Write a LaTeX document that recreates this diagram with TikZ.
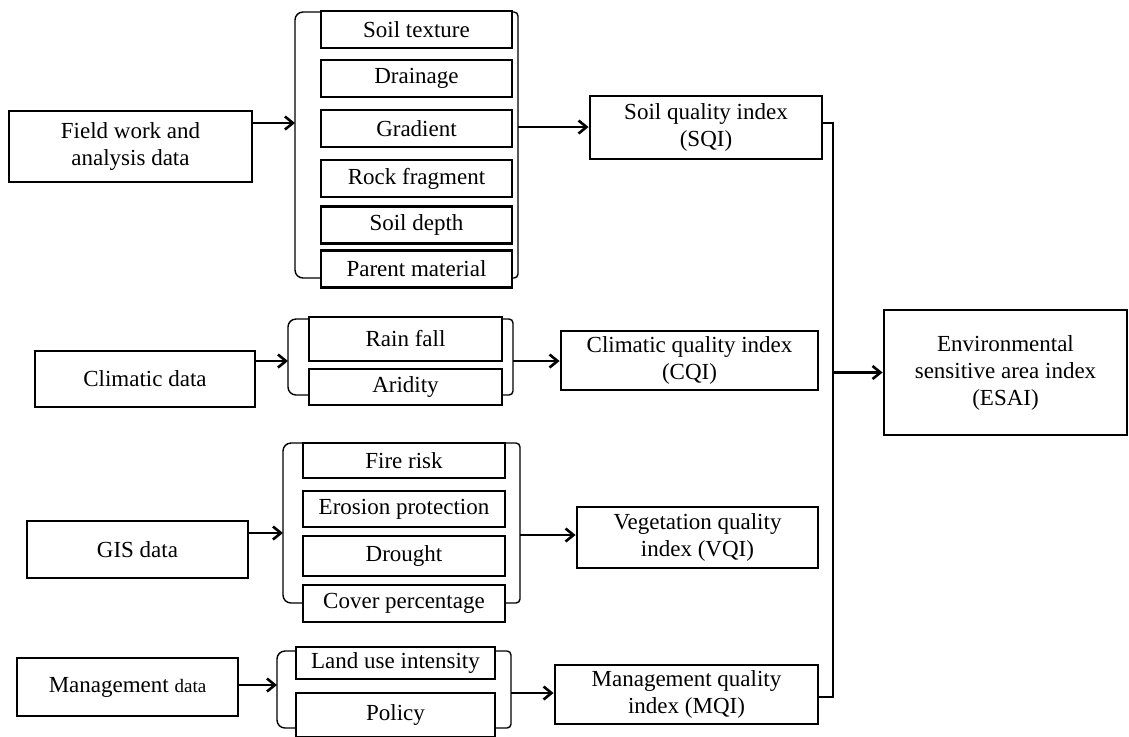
\documentclass[tikz,border=0pt]{standalone}
\usepackage{fontspec}
\setmainfont{Liberation Serif}
\usetikzlibrary{arrows.meta,positioning}

\begin{document}
\begin{tikzpicture}[x=0.5pt, y=-0.5pt,
    every node/.style={font=\fontsize{11.5}{13.5}\selectfont},
    src/.style={draw, line width=1.4pt, align=center, inner sep=0pt},
    factor/.style={draw, line width=1.4pt, align=center, inner sep=0pt},
    soilf/.style={factor, minimum width=95.5pt, minimum height=18.5pt},
    climf/.style={factor, minimum width=96.5pt},
    gisf/.style={factor, minimum width=101pt},
    mgmtf/.style={factor, minimum width=99.5pt},
    index/.style={draw, line width=1.4pt, align=center, inner sep=0pt},
    brace/.style={line width=0.7pt, rounded corners=4pt},
    rbrace/.style={line width=0.7pt, rounded corners=2pt},
    arrow/.style={line width=1.3pt, -{Straight Barb[length=4pt,width=6.5pt]}},
    link/.style={line width=0.6pt}
]
\useasboundingbox (0,0) rectangle (1129,736);

% Input data
\node[src, minimum width=121.5pt, minimum height=35.5pt] (field) at (130.5,146.5) {Field work and\\analysis data};
\node[src, minimum width=110pt, minimum height=28pt] (clim) at (145,379) {Climatic data};
\node[src, minimum width=110.5pt, minimum height=28.5pt] (gis) at (137.5,549.5) {GIS data};
\node[src, minimum width=110.5pt, minimum height=29pt] (mgmt) at (127.5,687) {Management {\fontsize{9.5}{11}\selectfont data}};

% Soil factors
\node[soilf] (texture) at (416.5,29.5) {Soil texture};
\node[soilf] (drainage) at (416.5,78.5) {Drainage};
\node[soilf] (gradient) at (416.5,128.5) {Gradient};
\node[soilf] (rock) at (416.5,178.5) {Rock fragment};
\node[soilf] (depth) at (416.5,225) {Soil depth};
\node[soilf] (parent) at (416.5,269) {Parent material};

% Climate factors
\node[climf, minimum height=22pt] (rain) at (405.5,339) {Rain fall};
\node[climf, minimum height=18pt] (aridity) at (405.5,387) {Aridity};

% Vegetation factors
\node[gisf, minimum height=17.5pt] (fire) at (404,460.5) {Fire risk};
\node[gisf, minimum height=18pt] (erosion) at (404,509) {Erosion protection};
\node[gisf, minimum height=20pt] (drought) at (404,556) {Drought};
\node[gisf, minimum height=18.5pt] (cover) at (404,603.5) {Cover percentage};

% Management factors
\node[mgmtf, minimum height=16pt] (landuse) at (395.5,663) {Land use intensity};
\node[mgmtf, minimum height=22pt] (policy) at (395.5,715) {Policy};

% Brackets round each group
\draw[brace] (321,12) -| (295,278) -- (321,278);
\draw[rbrace] (512,12) -| (518,278) -- (512,278);
\draw[brace] (309,319) -| (288,395) -- (309,395);
\draw[rbrace] (502,319) -| (513,395) -- (502,395);
\draw[brace] (303,443) -| (283,603) -- (303,603);
\draw[rbrace] (505,443) -| (520,603) -- (505,603);
\draw[brace] (296,651) -| (277,728) -- (296,728);
\draw[rbrace] (495,651) -| (511,728) -- (495,728);

\coordinate (soilin) at (295,123);
\coordinate (soilout) at (518,127);
\coordinate (climin) at (288,361);
\coordinate (climout) at (513,361);
\coordinate (gisin) at (283,533);
\coordinate (gisout) at (520,535);
\coordinate (mgmtin) at (277,685);
\coordinate (mgmtout) at (511,693);

% Quality indices
\node[index, minimum width=116pt, minimum height=31.5pt] (sqi) at (706,127.5) {Soil quality index\\(SQI)};
\node[index, minimum width=128.5pt, minimum height=29.5pt] (cqi) at (689.5,360.5) {Climatic quality index\\(CQI)};
\node[index, minimum width=120.5pt, minimum height=30.5pt] (vqi) at (697.5,537.5) {Vegetation quality\\index (VQI)};
\node[index, minimum width=131.5pt, minimum height=29.5pt] (mqi) at (686.5,694.5) {Management quality\\index (MQI)};

% Final index
\node[index, minimum width=121.5pt, minimum height=62.5pt] (esai) at (1005.5,372.5) {Environmental\\sensitive area index\\(ESAI)};

% Arrows
\draw[arrow] (field.east |- soilin) -- (soilin);
\draw[arrow] (clim.east |- climin) -- (climin);
\draw[arrow] (gis.east |- gisin) -- (gisin);
\draw[arrow] (mgmt.east |- mgmtin) -- (mgmtin);

\draw[arrow] (soilout) -- (soilout -| sqi.west);
\draw[arrow] (climout) -- (climout -| cqi.west);
\draw[arrow] (gisout) -- (gisout -| vqi.west);
\draw[arrow] (mgmtout) -- (mgmtout -| mqi.west);

% Collecting line to ESAI
\coordinate (jtop) at (833,123);
\coordinate (jbot) at (833,697);
\draw[link] (sqi.east |- jtop) -- (jtop) -- (jbot) -- (mqi.east |- jbot);
\draw[arrow] (jtop |- esai.west) -- (esai.west);

\end{tikzpicture}
\end{document}
